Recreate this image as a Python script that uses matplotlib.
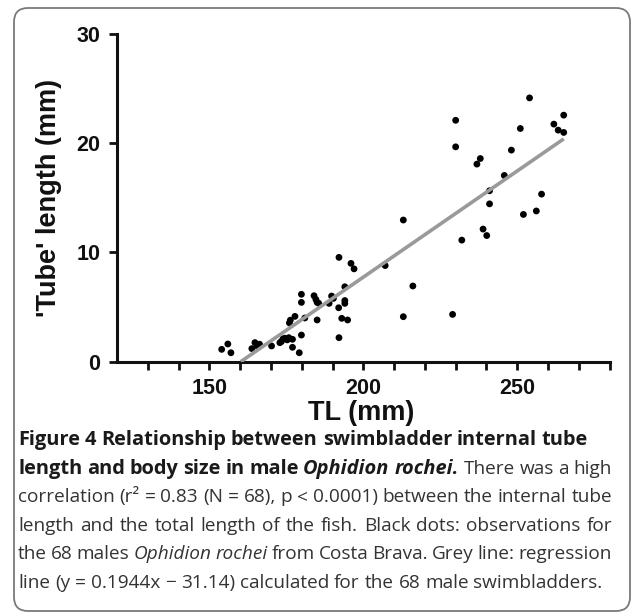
import matplotlib
matplotlib.use("Agg")
import matplotlib.pyplot as plt
from matplotlib.patches import FancyBboxPatch
from matplotlib.transforms import IdentityTransform

# ---------------- data ----------------
tl_mm = [154.0, 156.0, 157.0, 163.8, 164.8, 165.5, 166.3, 170.2, 172.9, 173.4,
         173.9, 174.5, 175.3, 175.8, 176.0, 176.3, 177.0, 177.0, 177.8, 179.2,
         179.9, 179.9, 179.9, 181.0, 184.0, 184.6, 185.0, 185.5, 185.0, 188.9,
         189.7, 190.3, 192.1, 192.0, 192.1, 193.0, 194.0, 194.0, 194.0, 194.9,
         196.0, 197.0, 207.1, 213.0, 213.0, 216.1, 229.0, 230.0, 230.0, 232.0,
         236.9, 238.0, 238.9, 240.1, 241.0, 241.0, 245.8, 248.1, 251.0, 252.0,
         254.0, 256.2, 257.9, 261.9, 263.3, 265.1, 265.1]
tube_mm = [1.13, 1.62, 0.82, 1.20, 1.75, 1.45, 1.60, 1.44, 1.74, 1.85,
           2.08, 2.15, 2.00, 2.20, 3.55, 3.80, 2.05, 1.32, 4.15, 0.82,
           2.44, 5.43, 6.17, 4.00, 6.04, 5.70, 5.43, 5.35, 3.82, 5.34,
           6.01, 5.80, 9.55, 4.94, 2.20, 3.97, 5.34, 5.60, 6.86, 3.82,
           9.00, 8.50, 8.80, 12.97, 4.12, 6.93, 4.33, 22.10, 19.67, 11.13,
           18.09, 18.60, 12.14, 11.55, 15.65, 14.45, 17.05, 19.37, 21.35, 13.48,
           24.15, 13.80, 15.34, 21.75, 21.20, 22.57, 20.99]

reg_slope = 0.1944
reg_intercept = -31.14
reg_x = [160.2, 265.1]

x_ticks = [130, 140, 150, 160, 170, 180, 190, 200, 210, 220, 230, 240, 250, 260, 270, 280]
x_tick_labels = ["", "", "150", "", "", "", "", "200", "", "", "", "", "250", "", "", ""]
y_ticks = [0, 10, 20, 30]
y_tick_labels = ["0", "10", "20", "30"]

x_label = "TL (mm)"
y_label = "'Tube' length (mm)"

# (text, weight, style); lines flagged True are justified to the right margin
caption_lines = [
    ([("Figure 4 Relationship between swimbladder internal tube", "bold", "normal")], False),
    ([("length and body size in male", "bold", "normal"),
      ("Ophidion rochei.", "bold", "italic"),
      ("There was a high", "normal", "normal")], True),
    ([("correlation (r\u00b2 = 0.83 (N = 68), p < 0.0001) between the internal tube", "normal", "normal")], True),
    ([("length and the total length of the fish. Black dots: observations for", "normal", "normal")], True),
    ([("the 68 males", "normal", "normal"),
      ("Ophidion rochei", "normal", "italic"),
      ("from Costa Brava. Grey line: regression", "normal", "normal")], True),
    ([("line (y = 0.1944x \u2212 31.14) calculated for the 68 male swimbladders.", "normal", "normal")], False),
]

# ---------------- figure ----------------
W, H = 633, 615
fig = plt.figure(figsize=(W / 100, H / 100), dpi=100)

border = FancyBboxPatch((14, 4), 616, 603, boxstyle="round,pad=0,rounding_size=14",
                        transform=IdentityTransform(), facecolor="none",
                        edgecolor="#7a7a7a", linewidth=1.3, zorder=-1)
fig.patches.append(border)

ax_left, ax_right = 117 / W, 609.6 / W
ax_top, ax_bottom = 1 - 34 / H, 1 - 361.7 / H
ax = fig.add_axes([ax_left, ax_bottom, ax_right - ax_left, ax_top - ax_bottom])
ax.set_facecolor("none")

ax.scatter(tl_mm, tube_mm, s=24, color="black", edgecolors="none", zorder=3, clip_on=False)
reg_y = [reg_slope * v + reg_intercept for v in reg_x]
ax.plot(reg_x, reg_y, color="#9a9a9a", linewidth=2.6, solid_capstyle="butt", zorder=4)

ax.set_xlim(120, 280)
ax.set_ylim(0, 30)
ax.set_xticks(x_ticks)
ax.set_xticklabels(x_tick_labels)
ax.set_yticks(y_ticks)
ax.set_yticklabels(y_tick_labels)

for s in ["top", "right"]:
    ax.spines[s].set_visible(False)
for s in ["left", "bottom"]:
    ax.spines[s].set_linewidth(2.2)
    ax.spines[s].set_color("#111111")
    ax.spines[s].set_capstyle("projecting")

ax.tick_params(axis="both", direction="out", length=6.0, width=2.0, color="#111111",
               labelcolor="#111111", pad=5.8)
for lab in ax.get_xticklabels() + ax.get_yticklabels():
    lab.set_fontfamily(["Liberation Sans", "DejaVu Sans"])
    lab.set_fontsize(15.5)
    lab.set_fontweight("bold")

label_font = dict(family=["Liberation Sans", "DejaVu Sans"], size=19.5, weight="bold",
                  color="#111111")
ax.set_xlabel(x_label, **label_font)
ax.set_ylabel(y_label, **label_font)
ax.xaxis.set_label_coords(0.4955, -0.118)
ax.yaxis.set_label_coords(-0.112, 0.5)

# ---------------- caption ----------------
cap_family = ["Open Sans", "DejaVu Sans"]
cap_x = 18
right_margin = 612
title_right = 590
last_right = 601
base0 = 445
spacing = 28.6
base_size = 12.0

lines_tokens = []
for pieces, justify in caption_lines:
    toks = []
    for s, wt, st in pieces:
        for w in s.split(" "):
            if w:
                toks.append((w, wt, st))
    lines_tokens.append((toks, justify))

word_texts = []
for toks, justify in lines_tokens:
    row = []
    for w, wt, st in toks:
        col = "#1a1a1a" if wt == "bold" else "#333333"
        t = fig.text(0, 0, w, family=cap_family, weight=wt, style=st, size=base_size,
                     color=col, ha="left", va="baseline")
        row.append(t)
    word_texts.append(row)

renderer = fig.canvas.get_renderer()
space_probe = fig.text(0, 0, "a a", family=cap_family, size=base_size)
a_probe = fig.text(0, 0, "aa", family=cap_family, size=base_size)


def measure(row, size_bold, size_reg):
    for t in row:
        t.set_fontsize(size_bold if t.get_fontweight() in ("bold", 700) else size_reg)
    space_probe.set_fontsize(size_reg)
    a_probe.set_fontsize(size_reg)
    sp = space_probe.get_window_extent(renderer).width - a_probe.get_window_extent(renderer).width
    ws = [t.get_window_extent(renderer).width for t in row]
    return ws, sp


ws, sp = measure(word_texts[0], base_size, base_size)
bold_size = base_size * (title_right - cap_x) / (sum(ws) + sp * (len(ws) - 1))
ws, sp = measure(word_texts[5], base_size, base_size)
reg_size = base_size * (last_right - cap_x) / (sum(ws) + sp * (len(ws) - 1))

for i, row in enumerate(word_texts):
    ws, sp = measure(row, bold_size, reg_size)
    justify = lines_tokens[i][1]
    if justify and len(row) > 1:
        gap = (right_margin - cap_x - sum(ws)) / (len(row) - 1)
    else:
        gap = sp
    y_disp = H - (base0 + i * spacing)
    x_cur = cap_x
    for t, w in zip(row, ws):
        t.set_position((x_cur / W, y_disp / H))
        x_cur += w + gap

space_probe.remove()
a_probe.remove()

fig.savefig("out.png", dpi=100)
